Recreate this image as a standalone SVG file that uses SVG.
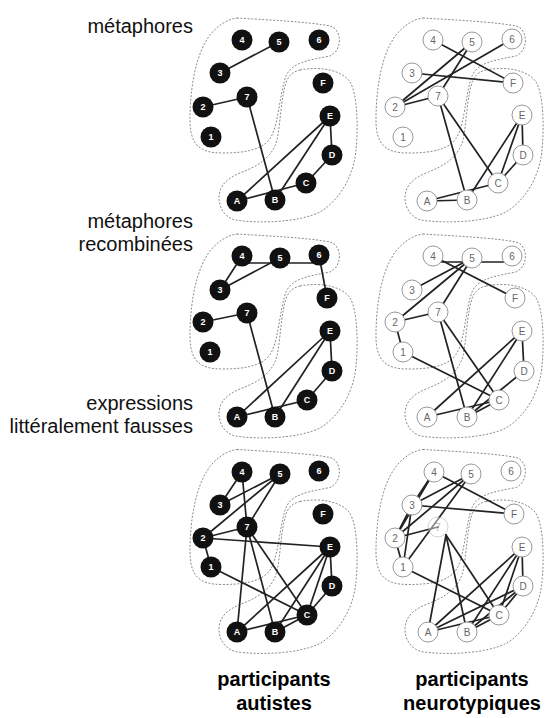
<svg xmlns="http://www.w3.org/2000/svg" width="545" height="718" viewBox="0 0 545 718">
<style>
.blob{fill:none;stroke:#8a8a8a;stroke-width:1;stroke-dasharray:2 1.6}
.e line{stroke:#222;stroke-width:1.7;stroke-linecap:round}
.nl circle{fill:#111}
.nl text{fill:#fff;font-family:"Liberation Sans",Arial,sans-serif;font-size:9px;font-weight:bold;text-anchor:middle}
.nr circle{fill:#fff;stroke:#999;stroke-width:1}
.nr text{fill:#666;font-family:"Liberation Sans",Arial,sans-serif;font-size:10px;text-anchor:middle}
.fade{opacity:0.45}
.lab{font-family:"Liberation Sans",Arial,sans-serif;font-size:20px;fill:#111;text-anchor:end}
.bot{font-family:"Liberation Sans",Arial,sans-serif;font-size:20px;font-weight:bold;fill:#000;text-anchor:middle}
</style>
<defs>
<path id="blobU" d="M237,18 C270,20 310,22 330,26 C342,29 343,50 330,56 C310,60 292,62 286,76 C280,92 279,120 272,135 C265,150 245,153 222,153 C200,153 190,145 190,120 C190,90 195,55 210,35 C218,25 228,19 237,18 Z"/>
<path id="blobL" d="M300,70 C320,66 342,70 350,82 C358,95 358,130 356,150 C354,175 340,200 320,212 C300,222 260,224 235,220 C225,217 219,208 219,198 C219,185 228,178 240,173 C258,166 272,158 277,140 C281,120 281,95 287,80 C290,74 295,71 300,70 Z"/>
</defs>

<g id="labels">
<text class="lab" x="193" y="33">métaphores</text>
<text class="lab" x="193" y="228">métaphores</text>
<text class="lab" x="193" y="251">recombinées</text>
<text class="lab" x="193" y="410">expressions</text>
<text class="lab" x="193" y="433">littéralement fausses</text>
<text class="bot" x="274" y="686">participants</text>
<text class="bot" x="274" y="710">autistes</text>
<text class="bot" x="472" y="686">participants</text>
<text class="bot" x="472" y="710">neurotypiques</text>
</g>

<g id="outlines">
<use href="#blobU" class="blob"/>
<use href="#blobL" class="blob"/>
<use href="#blobU" class="blob" transform="translate(186,0)"/>
<use href="#blobL" class="blob" transform="translate(186,0)"/>
<use href="#blobU" class="blob" transform="translate(0,216)"/>
<use href="#blobL" class="blob" transform="translate(0,216)"/>
<use href="#blobU" class="blob" transform="translate(186,216)"/>
<use href="#blobL" class="blob" transform="translate(186,216)"/>
<use href="#blobU" class="blob" transform="translate(0,431.5)"/>
<use href="#blobL" class="blob" transform="translate(0,431.5)"/>
<use href="#blobU" class="blob" transform="translate(186,431.5)"/>
<use href="#blobL" class="blob" transform="translate(186,431.5)"/>
</g>

<g id="connectors" class="e">
<!-- L1 -->
<line x1="220" y1="73" x2="279" y2="42"/>
<line x1="203" y1="107" x2="247" y2="97"/>
<line x1="247" y1="97" x2="275" y2="200"/>
<line x1="330" y1="116" x2="237" y2="201"/>
<line x1="330" y1="116" x2="275" y2="200"/>
<line x1="330" y1="116" x2="332" y2="155"/>
<line x1="237" y1="201" x2="306" y2="183"/>
<line x1="306" y1="183" x2="332" y2="155"/>
<!-- R1 -->
<line x1="433" y1="40" x2="513" y2="83"/>
<line x1="412" y1="73" x2="513" y2="83"/>
<line x1="472" y1="42" x2="395" y2="107"/>
<line x1="512" y1="39" x2="395" y2="107"/>
<line x1="395" y1="107" x2="438" y2="96"/>
<line x1="472" y1="42" x2="438" y2="96"/>
<line x1="438" y1="96" x2="467" y2="200"/>
<line x1="438" y1="96" x2="498" y2="183"/>
<line x1="522" y1="115" x2="467" y2="200"/>
<line x1="522" y1="115" x2="498" y2="183"/>
<line x1="522" y1="115" x2="523" y2="155"/>
<line x1="523" y1="155" x2="498" y2="183"/>
<line x1="427" y1="201" x2="498" y2="183"/>
<line x1="427" y1="201" x2="467" y2="200"/>
<!-- L2 -->
<line x1="242" y1="256" x2="220" y2="290"/>
<line x1="220" y1="290" x2="280" y2="258"/>
<line x1="242" y1="263" x2="319" y2="263"/>
<line x1="319" y1="255" x2="327" y2="298"/>
<line x1="203" y1="322" x2="247" y2="313"/>
<line x1="247" y1="313" x2="275" y2="417"/>
<line x1="330" y1="331" x2="237" y2="417"/>
<line x1="330" y1="331" x2="275" y2="417"/>
<line x1="330" y1="331" x2="332" y2="371"/>
<line x1="237" y1="417" x2="307" y2="400"/>
<line x1="307" y1="400" x2="332" y2="371"/>
<!-- R2 -->
<line x1="433" y1="262" x2="512" y2="262"/>
<line x1="433" y1="256" x2="515" y2="298"/>
<line x1="472" y1="258" x2="412" y2="290"/>
<line x1="472" y1="258" x2="395" y2="322"/>
<line x1="472" y1="258" x2="438" y2="312"/>
<line x1="395" y1="322" x2="438" y2="312"/>
<line x1="395" y1="322" x2="403" y2="352"/>
<line x1="403" y1="352" x2="499" y2="400"/>
<line x1="438" y1="312" x2="467" y2="417"/>
<line x1="438" y1="312" x2="499" y2="400"/>
<line x1="522" y1="331" x2="427" y2="417"/>
<line x1="522" y1="331" x2="467" y2="417"/>
<line x1="522" y1="331" x2="524" y2="371"/>
<line x1="524" y1="371" x2="467" y2="417"/>
<line x1="467" y1="417" x2="499" y2="400"/>
<line x1="427" y1="417" x2="499" y2="400"/>
<!-- L3 -->
<line x1="242" y1="472" x2="220" y2="505"/>
<line x1="220" y1="505" x2="280" y2="474"/>
<line x1="242" y1="472" x2="247" y2="527"/>
<line x1="280" y1="474" x2="203" y2="538"/>
<line x1="280" y1="474" x2="247" y2="527"/>
<line x1="203" y1="538" x2="247" y2="527"/>
<line x1="203" y1="538" x2="330" y2="547"/>
<line x1="203" y1="538" x2="211" y2="567"/>
<line x1="211" y1="567" x2="307" y2="615"/>
<line x1="247" y1="527" x2="237" y2="632"/>
<line x1="247" y1="527" x2="275" y2="632"/>
<line x1="247" y1="527" x2="307" y2="615"/>
<line x1="330" y1="547" x2="237" y2="632"/>
<line x1="330" y1="547" x2="275" y2="632"/>
<line x1="330" y1="547" x2="307" y2="615"/>
<line x1="330" y1="547" x2="332" y2="586"/>
<line x1="237" y1="632" x2="307" y2="615"/>
<line x1="275" y1="632" x2="307" y2="615"/>
<line x1="307" y1="615" x2="332" y2="586"/>
<!-- R3 -->
<line x1="434" y1="472" x2="412" y2="505"/>
<line x1="434" y1="472" x2="395" y2="538"/>
<line x1="434" y1="472" x2="514" y2="514"/>
<line x1="471" y1="474" x2="412" y2="505"/>
<line x1="471" y1="474" x2="395" y2="538"/>
<line x1="471" y1="474" x2="403" y2="567"/>
<line x1="412" y1="505" x2="514" y2="514"/>
<line x1="412" y1="505" x2="395" y2="538"/>
<line x1="412" y1="505" x2="403" y2="567"/>
<line x1="395" y1="538" x2="438" y2="527"/>
<line x1="395" y1="538" x2="403" y2="567"/>
<line x1="403" y1="567" x2="499" y2="615"/>
<line x1="446" y1="535" x2="428" y2="632"/>
<line x1="446" y1="535" x2="467" y2="632"/>
<line x1="446" y1="535" x2="499" y2="615"/>
<line x1="522" y1="547" x2="428" y2="632"/>
<line x1="522" y1="547" x2="467" y2="632"/>
<line x1="522" y1="547" x2="499" y2="615"/>
<line x1="522" y1="547" x2="523" y2="586"/>
<line x1="523" y1="586" x2="428" y2="632"/>
<line x1="523" y1="586" x2="467" y2="632"/>
<line x1="523" y1="586" x2="499" y2="615"/>
<line x1="428" y1="632" x2="499" y2="615"/>
<line x1="467" y1="632" x2="499" y2="615"/>
</g>

<!-- Panel L1 nodes -->
<g id="L1-4" class="nl"><circle cx="242" cy="40" r="10.5"/><text x="242" y="43.3">4</text></g>
<g id="L1-5" class="nl"><circle cx="279" cy="42" r="10.5"/><text x="279" y="45.3">5</text></g>
<g id="L1-6" class="nl"><circle cx="319" cy="40" r="10.5"/><text x="319" y="43.3">6</text></g>
<g id="L1-3" class="nl"><circle cx="220" cy="73" r="10.5"/><text x="220" y="76.3">3</text></g>
<g id="L1-7" class="nl"><circle cx="247" cy="97" r="10.5"/><text x="247" y="100.3">7</text></g>
<g id="L1-2" class="nl"><circle cx="203" cy="107" r="10.5"/><text x="203" y="110.3">2</text></g>
<g id="L1-1" class="nl"><circle cx="211" cy="137" r="10.5"/><text x="211" y="140.3">1</text></g>
<g id="L1-F" class="nl"><circle cx="323" cy="83" r="10.5"/><text x="323" y="86.3">F</text></g>
<g id="L1-E" class="nl"><circle cx="330" cy="116" r="10.5"/><text x="330" y="119.3">E</text></g>
<g id="L1-D" class="nl"><circle cx="332" cy="155" r="10.5"/><text x="332" y="158.3">D</text></g>
<g id="L1-C" class="nl"><circle cx="306" cy="183" r="10.5"/><text x="306" y="186.3">C</text></g>
<g id="L1-A" class="nl"><circle cx="237" cy="201" r="10.5"/><text x="237" y="204.3">A</text></g>
<g id="L1-B" class="nl"><circle cx="275" cy="200" r="10.5"/><text x="275" y="203.3">B</text></g>

<!-- Panel R1 nodes -->
<g id="R1-4" class="nr"><circle cx="433" cy="40" r="10"/><text x="433" y="43.5">4</text></g>
<g id="R1-5" class="nr"><circle cx="472" cy="42" r="10"/><text x="472" y="45.5">5</text></g>
<g id="R1-6" class="nr"><circle cx="512" cy="39" r="10"/><text x="512" y="42.5">6</text></g>
<g id="R1-3" class="nr"><circle cx="412" cy="73" r="10"/><text x="412" y="76.5">3</text></g>
<g id="R1-F" class="nr"><circle cx="513" cy="83" r="10"/><text x="513" y="86.5">F</text></g>
<g id="R1-7" class="nr"><circle cx="438" cy="96" r="10"/><text x="438" y="99.5">7</text></g>
<g id="R1-2" class="nr"><circle cx="395" cy="107" r="10"/><text x="395" y="110.5">2</text></g>
<g id="R1-E" class="nr"><circle cx="522" cy="115" r="10"/><text x="522" y="118.5">E</text></g>
<g id="R1-1" class="nr"><circle cx="403" cy="137" r="10"/><text x="403" y="140.5">1</text></g>
<g id="R1-D" class="nr"><circle cx="523" cy="155" r="10"/><text x="523" y="158.5">D</text></g>
<g id="R1-C" class="nr"><circle cx="498" cy="183" r="10"/><text x="498" y="186.5">C</text></g>
<g id="R1-A" class="nr"><circle cx="427" cy="201" r="10"/><text x="427" y="204.5">A</text></g>
<g id="R1-B" class="nr"><circle cx="467" cy="200" r="10"/><text x="467" y="203.5">B</text></g>

<!-- Panel L2 nodes -->
<g id="L2-4" class="nl"><circle cx="242" cy="256" r="10.5"/><text x="242" y="259.3">4</text></g>
<g id="L2-5" class="nl"><circle cx="280" cy="258" r="10.5"/><text x="280" y="261.3">5</text></g>
<g id="L2-6" class="nl"><circle cx="319" cy="255" r="10.5"/><text x="319" y="258.3">6</text></g>
<g id="L2-3" class="nl"><circle cx="220" cy="290" r="10.5"/><text x="220" y="293.3">3</text></g>
<g id="L2-F" class="nl"><circle cx="327" cy="298" r="10.5"/><text x="327" y="301.3">F</text></g>
<g id="L2-7" class="nl"><circle cx="247" cy="313" r="10.5"/><text x="247" y="316.3">7</text></g>
<g id="L2-2" class="nl"><circle cx="203" cy="322" r="10.5"/><text x="203" y="325.3">2</text></g>
<g id="L2-E" class="nl"><circle cx="330" cy="331" r="10.5"/><text x="330" y="334.3">E</text></g>
<g id="L2-1" class="nl"><circle cx="210" cy="352" r="10.5"/><text x="210" y="355.3">1</text></g>
<g id="L2-D" class="nl"><circle cx="332" cy="371" r="10.5"/><text x="332" y="374.3">D</text></g>
<g id="L2-C" class="nl"><circle cx="307" cy="400" r="10.5"/><text x="307" y="403.3">C</text></g>
<g id="L2-A" class="nl"><circle cx="237" cy="417" r="10.5"/><text x="237" y="420.3">A</text></g>
<g id="L2-B" class="nl"><circle cx="275" cy="417" r="10.5"/><text x="275" y="420.3">B</text></g>

<!-- Panel R2 nodes -->
<g id="R2-4" class="nr"><circle cx="433" cy="256" r="10"/><text x="433" y="259.5">4</text></g>
<g id="R2-5" class="nr"><circle cx="472" cy="258" r="10"/><text x="472" y="261.5">5</text></g>
<g id="R2-6" class="nr"><circle cx="512" cy="256" r="10"/><text x="512" y="259.5">6</text></g>
<g id="R2-3" class="nr"><circle cx="412" cy="290" r="10"/><text x="412" y="293.5">3</text></g>
<g id="R2-F" class="nr"><circle cx="515" cy="298" r="10"/><text x="515" y="301.5">F</text></g>
<g id="R2-7" class="nr"><circle cx="438" cy="312" r="10"/><text x="438" y="315.5">7</text></g>
<g id="R2-2" class="nr"><circle cx="395" cy="322" r="10"/><text x="395" y="325.5">2</text></g>
<g id="R2-E" class="nr"><circle cx="522" cy="331" r="10"/><text x="522" y="334.5">E</text></g>
<g id="R2-1" class="nr"><circle cx="403" cy="352" r="10"/><text x="403" y="355.5">1</text></g>
<g id="R2-D" class="nr"><circle cx="524" cy="371" r="10"/><text x="524" y="374.5">D</text></g>
<g id="R2-C" class="nr"><circle cx="499" cy="400" r="10"/><text x="499" y="403.5">C</text></g>
<g id="R2-A" class="nr"><circle cx="427" cy="417" r="10"/><text x="427" y="420.5">A</text></g>
<g id="R2-B" class="nr"><circle cx="467" cy="417" r="10"/><text x="467" y="420.5">B</text></g>

<!-- Panel L3 nodes -->
<g id="L3-4" class="nl"><circle cx="242" cy="472" r="10.5"/><text x="242" y="475.3">4</text></g>
<g id="L3-5" class="nl"><circle cx="280" cy="474" r="10.5"/><text x="280" y="477.3">5</text></g>
<g id="L3-6" class="nl"><circle cx="319" cy="471" r="10.5"/><text x="319" y="474.3">6</text></g>
<g id="L3-3" class="nl"><circle cx="220" cy="505" r="10.5"/><text x="220" y="508.3">3</text></g>
<g id="L3-F" class="nl"><circle cx="323" cy="514" r="10.5"/><text x="323" y="517.3">F</text></g>
<g id="L3-7" class="nl"><circle cx="247" cy="527" r="10.5"/><text x="247" y="530.3">7</text></g>
<g id="L3-2" class="nl"><circle cx="203" cy="538" r="10.5"/><text x="203" y="541.3">2</text></g>
<g id="L3-E" class="nl"><circle cx="330" cy="547" r="10.5"/><text x="330" y="550.3">E</text></g>
<g id="L3-1" class="nl"><circle cx="211" cy="567" r="10.5"/><text x="211" y="570.3">1</text></g>
<g id="L3-D" class="nl"><circle cx="332" cy="586" r="10.5"/><text x="332" y="589.3">D</text></g>
<g id="L3-C" class="nl"><circle cx="307" cy="615" r="10.5"/><text x="307" y="618.3">C</text></g>
<g id="L3-A" class="nl"><circle cx="237" cy="632" r="10.5"/><text x="237" y="635.3">A</text></g>
<g id="L3-B" class="nl"><circle cx="275" cy="632" r="10.5"/><text x="275" y="635.3">B</text></g>

<!-- Panel R3 nodes -->
<g id="R3-4" class="nr"><circle cx="434" cy="472" r="10"/><text x="434" y="475.5">4</text></g>
<g id="R3-5" class="nr"><circle cx="471" cy="474" r="10"/><text x="471" y="477.5">5</text></g>
<g id="R3-6" class="nr"><circle cx="511" cy="471" r="10"/><text x="511" y="474.5">6</text></g>
<g id="R3-3" class="nr"><circle cx="412" cy="505" r="10"/><text x="412" y="508.5">3</text></g>
<g id="R3-F" class="nr"><circle cx="514" cy="514" r="10"/><text x="514" y="517.5">F</text></g>
<g id="R3-7" class="nr fade"><circle cx="438" cy="527" r="10"/><text x="438" y="530.5">7</text></g>
<g id="R3-2" class="nr"><circle cx="395" cy="538" r="10"/><text x="395" y="541.5">2</text></g>
<g id="R3-E" class="nr"><circle cx="522" cy="547" r="10"/><text x="522" y="550.5">E</text></g>
<g id="R3-1" class="nr"><circle cx="403" cy="567" r="10"/><text x="403" y="570.5">1</text></g>
<g id="R3-D" class="nr"><circle cx="523" cy="586" r="10"/><text x="523" y="589.5">D</text></g>
<g id="R3-C" class="nr"><circle cx="499" cy="615" r="10"/><text x="499" y="618.5">C</text></g>
<g id="R3-A" class="nr"><circle cx="428" cy="632" r="10"/><text x="428" y="635.5">A</text></g>
<g id="R3-B" class="nr"><circle cx="467" cy="632" r="10"/><text x="467" y="635.5">B</text></g>
</svg>
